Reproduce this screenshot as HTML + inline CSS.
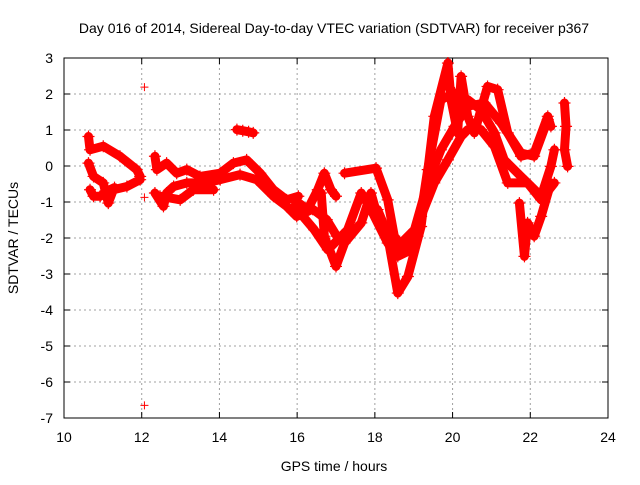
<!DOCTYPE html>
<html><head><meta charset="utf-8"><style>
body{margin:0;background:#fff}
svg text{font-family:"Liberation Sans",sans-serif;font-size:14px;fill:#000}
</style></head><body>
<svg id="chart" width="640" height="480" xmlns="http://www.w3.org/2000/svg">
<rect width="640" height="480" fill="#fff"/>
<text x="334" y="33" text-anchor="middle">Day 016 of 2014, Sidereal Day-to-day VTEC variation (SDTVAR) for receiver p367</text>
<text x="334" y="471" text-anchor="middle">GPS time / hours</text>
<text x="0" y="0" transform="translate(18,238) rotate(-90)" text-anchor="middle">SDTVAR / TECUs</text>
<g id="grid"></g><g id="axes"></g><g id="marks"></g>
</svg>
<script>
const xTicks=[10,12,14,16,18,20,22,24];
const yTicks=[3,2,1,0,-1,-2,-3,-4,-5,-6,-7];
const trackA_x=[10.63,10.67,11.01,11.44,11.87,11.96];
const trackA_y=[0.82,0.45,0.55,0.27,-0.10,-0.29];
const trackB_x=[10.63,10.76,11.01,11.14,11.27,11.62,11.96];
const trackB_y=[0.08,-0.29,-0.47,-1.03,-0.66,-0.57,-0.38];
const trackB2_x=[10.67,10.76,10.93,11.1,11.3];
const trackB2_y=[-0.66,-0.84,-0.84,-0.7,-0.6];
const trackC_x=[12.34,12.39,12.64,12.9,13.16,13.5,14.02,14.36,14.7,15.05,15.39,15.73,16.03];
const trackC_y=[0.27,-0.1,0.08,-0.2,-0.1,-0.29,-0.2,0.08,0.17,-0.2,-0.66,-0.94,-0.84];
const trackD_x=[12.34,12.56,12.64,12.82,13.16,13.67,14.02,14.53,14.96,15.39,15.73,15.99,16.4,16.76,17.02];
const trackD_y=[-0.75,-1.12,-0.75,-0.57,-0.47,-0.47,-0.38,-0.24,-0.38,-0.84,-1.12,-1.4,-1.2,-1.49,-1.95];
const trackD2_x=[12.47,12.99,13.33,13.85];
const trackD2_y=[-0.84,-0.94,-0.66,-0.66];
const trackG_x=[14.45,14.6,14.75,14.87];
const trackG_y=[1.01,0.98,0.95,0.92];
const trackP_x=[15.93,16.27,16.53,16.70,16.87,17.0];
const trackP_y=[-0.94,-1.21,-0.66,-0.20,-0.66,-0.84];
const trackQ_x=[16.62,16.70,17.0,17.22,17.65,17.9,18.07,18.33,18.59,18.85,19.19,19.53,19.88,19.96,20.13,20.22,20.39,20.56,20.9,21.16,21.42,21.76,22.1,22.45,22.53];
const trackQ_y=[-0.75,-1.95,-2.79,-2.14,-1.58,-0.75,-1.4,-1.95,-3.53,-3.07,-1.68,1.38,2.86,1.84,0.92,2.49,1.38,0.92,2.21,2.12,0.92,0.27,0.36,1.38,1.1];
const trackR_x=[17.22,18.03,18.33,18.5,18.76,19.1,19.36,19.7,20.05,20.39,20.73,21.08,21.33,21.76,22.28,22.53,22.62];
const trackR_y=[-0.2,-0.06,-0.94,-1.95,-2.33,-1.95,-0.1,1.84,2.03,1.84,1.56,0.92,0.17,-0.29,-0.84,-0.01,0.45];
const trackS_x=[15.93,16.44,16.79,17.3,17.65,17.9,18.33,18.59,18.93,19.19,19.53,19.88,20.22,20.39,20.73,21.08,21.42,21.93,22.28,22.62];
const trackS_y=[-1.12,-1.77,-2.33,-1.77,-0.75,-1.21,-2.14,-2.51,-2.33,-1.4,-0.47,0.17,0.82,1.01,1.01,0.54,-0.47,-0.47,-0.94,-0.47];
const trackT_x=[18.07,18.5,19.02,19.36,19.7,20.05,20.39,20.82,21.25,21.76,22.1,22.45];
const trackT_y=[-1.21,-2.33,-1.77,-0.47,0.45,1.1,1.66,1.75,1.19,0.36,0.27,1.29];
const trackU_x=[21.72,21.85,21.93,22.1,22.28,22.53];
const trackU_y=[-1.03,-2.51,-1.58,-1.95,-1.4,-0.47];
const trackV_x=[22.88,22.92,22.88,22.96];
const trackV_y=[1.75,1.1,0.45,-0.01];
const outlier_x=[12.07,12.07,12.07];
const outlier_y=[2.19,-6.65,-0.87];

const L=64,R=608,T=58,B=418;
const xMin=10,xMax=24,yMin=-7,yMax=3;
function sx(v){return L+(v-xMin)/(xMax-xMin)*(R-L);}
function sy(v){return B-(v-yMin)/(yMax-yMin)*(B-T);}
const NS='http://www.w3.org/2000/svg';
function mk(tag,attrs,parent){const e=document.createElementNS(NS,tag);for(const k in attrs)e.setAttribute(k,attrs[k]);parent.appendChild(e);return e;}
const grid=document.getElementById('grid'),axes=document.getElementById('axes'),marks=document.getElementById('marks');
xTicks.forEach(t=>{
  const x=sx(t);
  if(t>xMin&&t<xMax){const g=mk('line',{x1:x,x2:x,y1:T,y2:B,stroke:'#a0a0a0','stroke-dasharray':'2,3'},grid);
  
  }
  mk('line',{x1:x,x2:x,y1:B,y2:B-6,stroke:'#000'},axes);
  mk('line',{x1:x,x2:x,y1:T,y2:T+6,stroke:'#000'},axes);
  const tx=mk('text',{x:x,y:B+24,'text-anchor':'middle'},axes);tx.textContent=t;
  
  
});
yTicks.forEach(t=>{
  const y=sy(t);
  if(t>yMin&&t<yMax){const g=mk('line',{x1:L,x2:R,y1:y,y2:y,stroke:'#a0a0a0','stroke-dasharray':'2,3'},grid);
  
  }
  mk('line',{x1:L,x2:L+6,y1:y,y2:y,stroke:'#000'},axes);
  mk('line',{x1:R,x2:R-6,y1:y,y2:y,stroke:'#000'},axes);
  const tx=mk('text',{x:L-11,y:y+5,'text-anchor':'end'},axes);tx.textContent=t;
  
  
});
const border=mk('rect',{x:L,y:T,width:R-L,height:B-T,fill:'none',stroke:'#000'},axes);


const tracks=[[trackA_x,trackA_y],[trackB_x,trackB_y],[trackB2_x,trackB2_y],[trackC_x,trackC_y],[trackD_x,trackD_y],[trackD2_x,trackD2_y],[trackG_x,trackG_y],[trackP_x,trackP_y],[trackQ_x,trackQ_y],[trackR_x,trackR_y],[trackS_x,trackS_y],[trackT_x,trackT_y],[trackU_x,trackU_y],[trackV_x,trackV_y]];
tracks.forEach(([xs,ys])=>{
  const pts=xs.map((x,i)=>sx(x)+','+sy(ys[i])).join(' ');
  const pl=mk('polyline',{points:pts,fill:'none',stroke:'#ff0000','stroke-width':9,'stroke-linejoin':'round','stroke-linecap':'round'},marks);
  
  
  xs.forEach((x,i)=>{
    const cx=sx(x),cy=sy(ys[i]);
    const p=mk('path',{d:`M${cx-6},${cy}H${cx+6}M${cx},${cy-6}V${cy+6}`,stroke:'#ff0000','stroke-width':1.2},marks);
    
    
  });
});
outlier_x.forEach((x,i)=>{
  const cx=sx(x),cy=sy(outlier_y[i]);
  const p=mk('path',{d:`M${cx-4},${cy}H${cx+4}M${cx},${cy-4}V${cy+4}`,stroke:'#ff0000','stroke-width':1},marks);
  
  
});
</script>
</body></html>
